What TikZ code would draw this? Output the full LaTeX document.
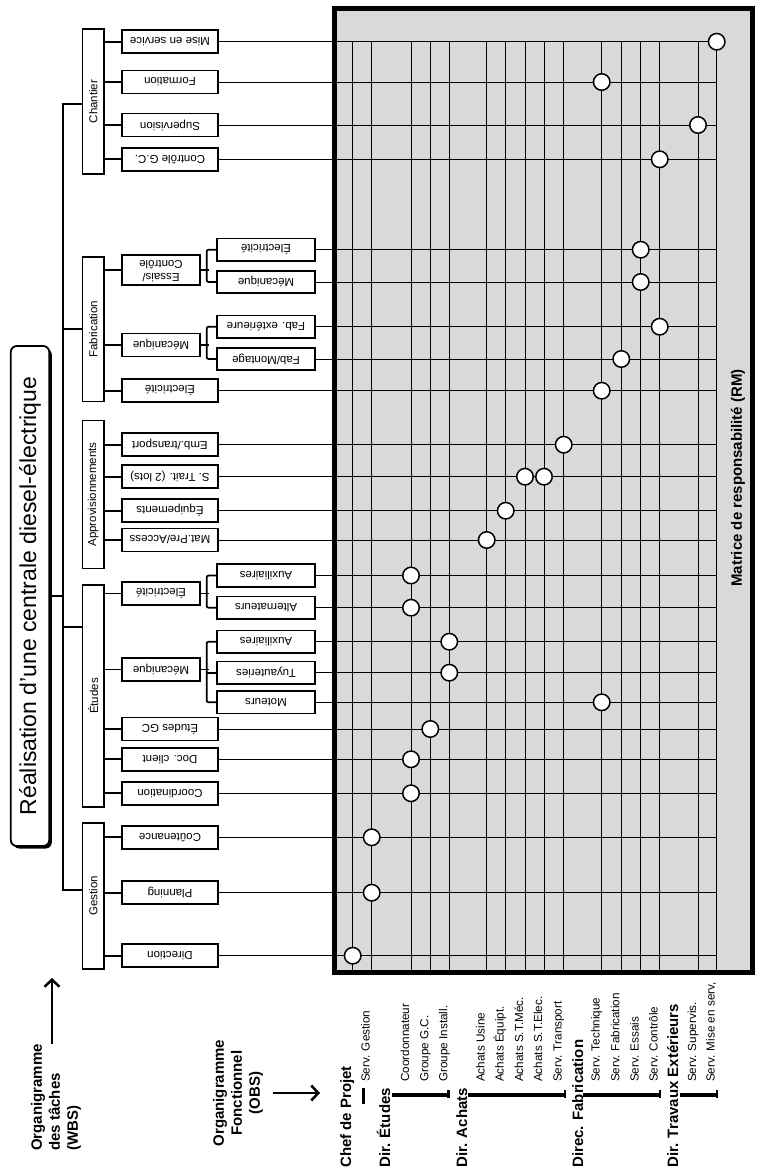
\documentclass[tikz,border=0pt]{standalone}
\usepackage{fontspec}
\setmainfont{Liberation Sans}
\usepackage{graphicx}
\usetikzlibrary{arrows.meta,shadows,calc}

\newcommand\taskfont{\fontsize{11.5}{13}\selectfont}
\newcommand\upsd[1]{\rotatebox{180}{#1}}
\newcommand\upr[1]{\rotatebox{90}{#1}}

\begin{document}
\begin{tikzpicture}[x=1pt,y=-1pt,
  conn/.style={line width=1.8pt},
  wbox/.style={draw, line width=1.7pt, fill=white, inner sep=0pt, font=\taskfont},
  lonebox/.style={wbox, line width=1.5pt, minimum width=21.5pt},
  taskbox/.style={wbox, minimum width=96pt, minimum height=23pt},
  midbox/.style={wbox, minimum width=78pt, minimum height=23pt},
  subbox/.style={wbox, minimum width=98pt, minimum height=22.5pt},
  gridline/.style={line width=0.9pt},
  rmdot/.style={circle, draw, line width=1.5pt, fill=white, minimum size=16.5pt, inner sep=0pt},
  colname/.style={rotate=90, anchor=base west, inner sep=0pt, font=\fontsize{11.7}{14}\selectfont},
  dirname/.style={rotate=90, anchor=base west, inner sep=0pt, font=\bfseries\fontsize{15}{18}\selectfont},
  biglabel/.style={rotate=90, inner sep=0pt, font=\bfseries\fontsize{15}{18}\selectfont},
  bar/.style={line width=3.5pt},
  tick/.style={line width=2.5pt},
  bigarrow/.style={line width=2.5pt, -{Straight Barb[length=7pt,width=15pt]}},
]
\useasboundingbox (0,0) rectangle (757,1171);

% responsibility matrix background
\fill[gray!30] (334.5,8.5) rectangle (752.5,972.5);

% matrix columns (one per service)
\foreach \n/\x in {1/352.7, 2/371.7, 3/411, 4/430.3, 5/449.3, 6/486.7, 7/505.7, 8/525,
                   9/544, 10/563.7, 11/601.7, 12/621.3, 13/640.7, 14/659.7, 15/698, 16/716.7}{
  \coordinate (c\n) at (\x,41.7);
  \draw[gridline] (c\n) -- (\x,972.5);
}

% title box
\node[draw, line width=1.8pt, rounded corners=6pt, fill=white, minimum width=38.5pt,
      minimum height=500pt, inner sep=0pt,
      drop shadow={shadow xshift=2.5pt, shadow yshift=-2.5pt, fill=black, opacity=1}]
      (title) at (30,596) {\upr{\fontsize{23}{27}\selectfont Réalisation d'une centrale diesel-électrique}};

% first level of the task breakdown
\node[lonebox, minimum height=145pt]   (chantier)    at (93.25,101.5) {\upr{Chantier}};
\node[lonebox, minimum height=144.7pt] (fabrication) at (93.25,329.35) {\upr{Fabrication}};
\node[lonebox, minimum height=147.6pt] (appro)       at (93.25,494.5) {\upr{Approvisionnements}};
\node[lonebox, minimum height=222pt]   (etudes)      at (93.25,696) {\upr{Études}};
\node[lonebox, minimum height=146pt]   (gestion)     at (93.25,896) {\upr{Gestion}};

% second level
\node[taskbox] (misesvc)     at (170,41.7)  {\upsd{Mise en service}};
\node[taskbox] (formation)   at (170,82)    {\upsd{Formation}};
\node[taskbox] (supervision) at (170,125)   {\upsd{Supervision}};
\node[taskbox] (controlegc)  at (170,159.3) {\upsd{Contrôle G.C.}};
\node[midbox, minimum height=30pt] (essais) at (161,270)
      {\upsd{\begin{tabular}{@{}c@{}}Essais/\\Contrôle\end{tabular}}};
\node[midbox]  (mecfab)      at (161,345)   {\upsd{Mécanique}};
\node[taskbox] (elecfab)     at (170,390.7) {\upsd{Électricité}};
\node[taskbox] (emb)         at (170,444.7) {\upsd{Emb./transport}};
\node[taskbox] (strait)      at (170,476.7) {\upsd{S. Trait. (2 lots)}};
\node[taskbox] (equip)       at (170,510.7) {\upsd{Équipements}};
\node[taskbox] (matpre)      at (170,540)   {\upsd{Mat.Pre/Access}};
\node[midbox]  (elecet)      at (161,593.5) {\upsd{Électricité}};
\node[midbox]  (mecet)       at (161,669.5) {\upsd{Mécanique}};
\node[taskbox] (etudesgc)    at (170,729)   {\upsd{Études GC}};
\node[taskbox] (docclient)   at (170,759.3) {\upsd{Doc. client}};
\node[taskbox] (coord)       at (170,793.3) {\upsd{Coordination}};
\node[taskbox] (coutenance)  at (170,837.3) {\upsd{Coûtenance}};
\node[taskbox] (planning)    at (170,892.7) {\upsd{Planning}};
\node[taskbox] (direction)   at (170,955.7) {\upsd{Direction}};

% third level
\node[subbox] (eleces)  at (266,249.7) {\upsd{Électricité}};
\node[subbox] (meces)   at (266,282)   {\upsd{Mécanique}};
\node[subbox] (fabext)  at (266,326.7) {\upsd{Fab. extérieure}};
\node[subbox] (fabmont) at (266,359)   {\upsd{Fab/Montage}};
\node[subbox] (auxel)   at (266,575.5) {\upsd{Auxiliaires}};
\node[subbox] (altern)  at (266,607.7) {\upsd{Alternateurs}};
\node[subbox] (auxmec)  at (266,641.7) {\upsd{Auxiliaires}};
\node[subbox] (tuyau)   at (266,672.7) {\upsd{Tuyauteries}};
\node[subbox] (moteurs) at (266,702.3) {\upsd{Moteurs}};

% trunk of the tree
\coordinate (ttop) at (63,104);
\coordinate (tbot) at (63,890);
\coordinate (tfab) at (63,329);
\coordinate (tetu) at (63,627);
\draw[conn] (ttop -| chantier.west) -- (ttop) -- (tbot) -- (tbot -| gestion.west);
\draw[conn] (tfab) -- (tfab -| fabrication.west);
\draw[conn] (tetu) -- (tetu -| etudes.west);
\draw[conn] (title.east) -- (title.east -| ttop);

% stubs from level 1 to level 2
\foreach \p/\t in {chantier/misesvc, chantier/formation, chantier/supervision, chantier/controlegc,
                   fabrication/essais, fabrication/mecfab, fabrication/elecfab,
                   appro/emb, appro/strait, appro/equip, appro/matpre,
                   etudes/elecet, etudes/mecet, etudes/etudesgc, etudes/docclient, etudes/coord,
                   gestion/coutenance, gestion/planning, gestion/direction}{
  \draw[conn] (\t.west -| \p.east) -- (\t.west);
}

% brackets from level 2 to level 3
\foreach \p/\a/\b in {essais/eleces/meces, mecfab/fabext/fabmont, elecet/auxel/altern, mecet/auxmec/moteurs}{
  \draw[conn] (\p.east) -- ++(8.5,0);
  \draw[conn, rounded corners=2pt] (\a.west) -- ++(-9.5,0) |- (\b.west);
}
\draw[conn] (tuyau.west) -- ++(-9.5,0);

% matrix rows (one per work package)
\foreach \t in {misesvc, formation, supervision, controlegc, eleces, meces, fabext, fabmont,
                elecfab, emb, strait, equip, matpre, auxel, altern, auxmec, tuyau, moteurs,
                etudesgc, docclient, coord, coutenance, planning, direction}{
  \draw[gridline] (\t.east) -- (\t.east -| c16);
}

% matrix frame
\draw[line width=4.5pt] (334.5,8.5) rectangle (752.5,972.5);
\node[biglabel] (rm) at (738,478) {Matrice de responsabilité (RM)};

% responsibilities
\foreach \t/\c in {misesvc/16, formation/11, supervision/15, controlegc/14, eleces/13, meces/13,
                   fabext/14, fabmont/12, elecfab/11, emb/10, strait/8, strait/9, equip/7,
                   matpre/6, auxel/3, altern/3, auxmec/5, tuyau/5, moteurs/11, etudesgc/4,
                   docclient/3, coord/3, coutenance/2, planning/2, direction/1}{
  \node[rmdot] at (\t.east -| c\c) {};
}

% functional breakdown (services)
\node[dirname] at (351,1168) {Chef de Projet};
\node[dirname] at (390,1168) {Dir. Études};
\node[dirname] at (467,1168) {Dir. Achats};
\node[dirname] at (583,1168) {Direc. Fabrication};
\node[dirname] at (678,1168) {Dir. Travaux Extérieurs};

\foreach \x/\s in {369.7/Serv. Gestion, 409/Coordonnateur, 428.3/Groupe G.C., 447.3/Groupe Install.,
                   484.7/Achats Usine, 503.7/Achats Équipt., 523/Achats S.T.Méc., 542/Achats S.T.Elec.,
                   561.7/Serv. Transport, 599.7/Serv. Technique, 619.3/Serv. Fabrication,
                   638.7/Serv. Essais, 657.7/Serv. Contrôle, 696/Serv. Supervis.}{
  \node[colname] at (\x,1082) {\s};
}
\node[colname] at (714.7,1082) {Serv. Mise en serv,};

\draw[line width=3pt] (363,1088) -- (363,1104);
\draw[bar] (392,1095) -- (448.5,1095);
\draw[bar] (468,1095) -- (565,1095);
\draw[bar] (583,1095) -- (660,1095);
\draw[bar] (680,1095) -- (717,1095);
\foreach \x in {448.5, 565, 660, 717}{
  \draw[tick] (\x,1090) -- (\x,1098);
}

% axis legends
\node[rotate=90, anchor=west, align=left, inner sep=0pt, font=\bfseries\fontsize{15}{18}\selectfont]
      (wbs) at (56,1151) {Organigramme\\des tâches\\(WBS)};
\coordinate (wbstip) at (52,978);
\draw[bigarrow] (wbstip |- wbs.east) -- (wbstip);

\node[biglabel, align=center] (obs) at (238,1093) {Organigramme\\Fonctionnel\\(OBS)};
\coordinate (obstip) at (320,1093);
\draw[bigarrow] ($(obs.south)+(10,0)$) -- (obstip);

\end{tikzpicture}
\end{document}
